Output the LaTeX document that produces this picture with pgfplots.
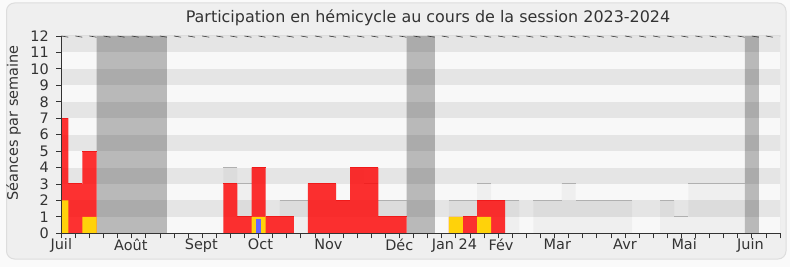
\documentclass[border=0pt]{standalone}
\usepackage{pgfplots}
\pgfplotsset{compat=1.18}
\usepackage{fontspec}
\setmainfont{DejaVu Sans}
\definecolor{txt}{HTML}{333333}
\definecolor{axisc}{HTML}{333333}
\definecolor{outerbg}{HTML}{FAFAFA}
\definecolor{panelbg}{HTML}{EFEFEF}
\definecolor{panelborder}{HTML}{DDDDDD}
\definecolor{stripel}{HTML}{F8F8F8}
\definecolor{stripeg}{HTML}{E5E5E5}
\definecolor{medline}{HTML}{B0B0B0}
\definecolor{redfill}{RGB}{255,0,0}
\definecolor{redline}{RGB}{240,25,25}
\definecolor{yel}{RGB}{255,210,10}
\definecolor{blu}{RGB}{102,102,255}
\begin{document}
\begin{tikzpicture}[x=1bp,y=1bp]
\useasboundingbox (0,0) rectangle (790,267);
\fill[outerbg] (0,0) rectangle (790,267);
\draw[fill=panelbg, draw=panelborder, line width=1bp, rounded corners=8bp] (6.5,8) rectangle (786,264);
\node[text=txt, font=\fontsize{16}{19}\selectfont] at (428,249) {Participation en hémicycle au cours de la session 2023-2024};
\node[text=txt, rotate=90, font=\fontsize{14.5}{17}\selectfont] at (13.5,144) {Séances par semaine};
\begin{axis}[
  at={(61.3bp,33.7bp)}, anchor=south west,
  scale only axis, width=718.7bp, height=197.3bp,
  xmin=0, xmax=51, ymin=0, ymax=12,
  axis on top,
  axis x line*=bottom, axis y line*=left,
  axis line style={draw=axisc, line width=1bp},
  xtick={0,...,51}, xticklabels={},
  ytick={0,...,12},
  tick align=outside, major tick length=5bp,
  tick style={draw=axisc, line width=0.8bp},
  extra x ticks={0,4.93,9.94,14.13,18.95,23.98,27.9,31.2,35.2,40,44.2,48.9},
  extra x tick labels={Juil,Août,Sept,Oct,Nov,Déc,Jan 24,Fév,Mar,Avr,Mai,Juin},
  extra x tick style={major tick length=0pt, xticklabel style={yshift=-2bp}},
  ticklabel style={font=\fontsize{14.5}{17}\selectfont, text=txt},
  yticklabel style={xshift=-4bp},
  /pgf/number format/assume math mode=true,
  unbounded coords=jump,
  clip=true,
]
% background stripes
\fill[stripel] (axis cs:0,0) rectangle (axis cs:51,12);
\fill[stripeg] (axis cs:0,1) rectangle (axis cs:51,2);
\fill[stripeg] (axis cs:0,3) rectangle (axis cs:51,4);
\fill[stripeg] (axis cs:0,5) rectangle (axis cs:51,6);
\fill[stripeg] (axis cs:0,7) rectangle (axis cs:51,8);
\fill[stripeg] (axis cs:0,9) rectangle (axis cs:51,10);
\fill[stripeg] (axis cs:0,11) rectangle (axis cs:51,12);
% vacations
\addplot[ybar interval, fill=black, fill opacity=0.25, draw=none]
  coordinates {(2.5,12) (7.5,0) (24.5,12) (26.5,0) (48.5,12) (49.5,0)};
% median presence (fill)
\addplot[ybar interval, fill=black, fill opacity=0.035, draw=none]
  coordinates {(11.5,4) (12.5,3) (13.5,4) (14.5,1) (15.5,2) (16.5,2) (17.5,3) (18.5,3)
  (19.5,2) (20.5,4) (21.5,3) (22.5,2) (23.5,2) (24.5,0) (27.5,2) (28.5,2) (29.5,3)
  (30.5,2) (31.5,2) (32.5,0) (33.5,2) (34.5,2) (35.5,3) (36.5,2) (37.5,2) (38.5,2)
  (39.5,2) (40.5,0) (42.5,2) (43.5,1) (44.5,3) (45.5,3) (46.5,3) (47.5,3) (48.5,0)};
% median presence (top line, horizontal segments only)
\addplot[mark=none, draw=medline, line width=1bp] coordinates {
  (11.5,4) (12.5,4) (12.5,nan) (12.5,3) (13.5,3) (13.5,nan) (13.5,4) (14.5,4) (14.5,nan)
  (14.5,1) (15.5,1) (15.5,nan) (15.5,2) (17.5,2) (17.5,nan) (17.5,3) (19.5,3) (19.5,nan)
  (19.5,2) (20.5,2) (20.5,nan) (20.5,4) (21.5,4) (21.5,nan) (21.5,3) (22.5,3) (22.5,nan)
  (22.5,2) (24.5,2) (24.5,nan) (27.5,2) (29.5,2) (29.5,nan) (29.5,3) (30.5,3) (30.5,nan)
  (30.5,2) (32.5,2) (32.5,nan) (33.5,2) (35.5,2) (35.5,nan) (35.5,3) (36.5,3) (36.5,nan)
  (36.5,2) (40.5,2) (40.5,nan) (42.5,2) (43.5,2) (43.5,nan) (43.5,1) (44.5,1) (44.5,nan)
  (44.5,3) (48.5,3)};
% presence (red)
\addplot[ybar interval, fill=redfill, fill opacity=0.8, draw=none]
  coordinates {(-0.5,7) (0.5,3) (1.5,5) (2.5,0) (11.5,3) (12.5,1) (13.5,4) (14.5,1)
  (15.5,1) (16.5,0) (17.5,3) (18.5,3) (19.5,2) (20.5,4) (21.5,4) (22.5,1) (23.5,1)
  (24.5,0) (27.5,1) (28.5,1) (29.5,2) (30.5,2) (31.5,0)};
\addplot[mark=none, color=redline, solid, line width=1bp] coordinates {
  (-0.5,7) (0.5,7) (0.5,nan) (0.5,3) (1.5,3) (1.5,nan) (1.5,5) (2.5,5) (2.5,nan)
  (11.5,3) (12.5,3) (12.5,nan) (12.5,1) (13.5,1) (13.5,nan) (13.5,4) (14.5,4) (14.5,nan)
  (14.5,1) (16.5,1) (16.5,nan) (17.5,3) (19.5,3) (19.5,nan) (19.5,2) (20.5,2) (20.5,nan)
  (20.5,4) (22.5,4) (22.5,nan) (22.5,1) (24.5,1) (24.5,nan) (28.5,1) (29.5,1) (29.5,nan)
  (29.5,2) (31.5,2)};
% interventions (yellow)
\addplot[ybar interval, fill=yel, draw=none]
  coordinates {(-0.5,2) (0.5,0) (1.5,1) (2.5,0) (13.5,1) (14.5,0) (27.5,1) (28.5,0)
  (29.5,1) (30.5,0)};
% questions (blue)
\addplot[ybar interval, fill=blu, draw=none]
  coordinates {(13.825,0.85) (14.175,0)};
% plot frame and top ticks
\draw[panelborder, line width=1bp] (axis cs:0,12) -- (axis cs:51,12) -- (axis cs:51,0);
\pgfplotsinvokeforeach{0,...,51}{\draw[black!80, line width=0.6bp] (axis cs:#1,12) -- ++(0,-1.2bp);}
\end{axis}
\end{tikzpicture}
\end{document}
